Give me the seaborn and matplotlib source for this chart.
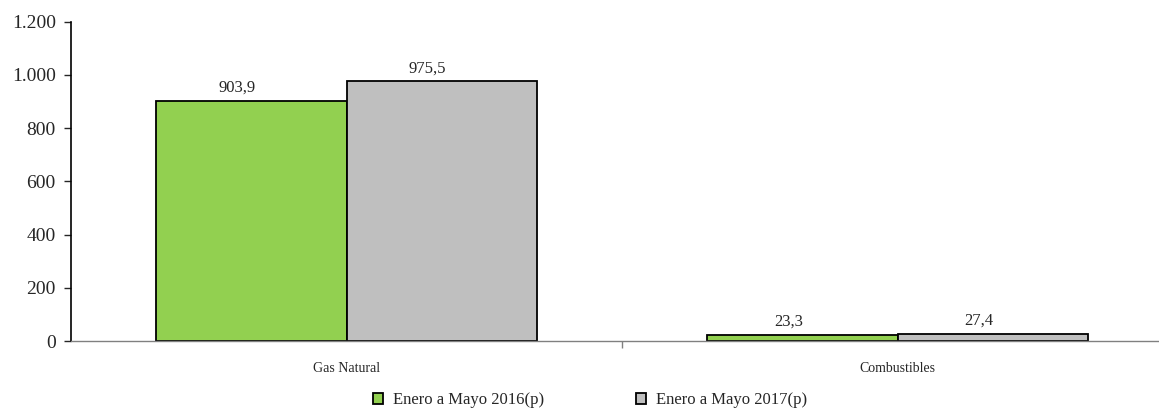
import pandas as pd
import matplotlib.pyplot as plt
import seaborn as sns
from matplotlib.patches import Patch
from matplotlib.ticker import FuncFormatter

# Datos
categorias = ['Gas Natural', 'Combustibles']
series = ['Enero a Mayo 2016(p)', 'Enero a Mayo 2017(p)']
valores_2016 = [903.9, 23.3]
valores_2017 = [975.5, 27.4]
colores = ['#92D050', '#BFBFBF']

df = pd.DataFrame({
    'categoria': categorias * 2,
    'serie': [series[0]] * 2 + [series[1]] * 2,
    'valor': valores_2016 + valores_2017,
})

sns.set_style('white')
plt.rcParams['font.family'] = ['Liberation Serif', 'DejaVu Serif']

fig = plt.figure(figsize=(11.59, 4.13), dpi=100)
# el eje x sigue mas alla del borde derecho, como en el original
ax = fig.add_axes([0.0613, 0.1743, 0.9508, 0.773])

sns.barplot(data=df, x='categoria', y='valor', hue='serie', order=categorias,
            hue_order=series, palette=colores, width=0.69, edgecolor='black',
            linewidth=1.3, saturation=1, legend=False, ax=ax)

# etiquetas de datos (un poco corridas a la izquierda como en Excel)
for cont in ax.containers:
    for bar, v in zip(cont.patches, cont.datavalues):
        ax.annotate(f'{v:.1f}'.replace('.', ','),
                    xy=(bar.get_x() + bar.get_width() / 2, bar.get_height()),
                    xytext=(-14, 5), textcoords='offset pixels',
                    ha='center', va='bottom', fontsize=12)

ax.set_ylim(0, 1200)
ax.set_xlim(-0.5, 1.5)
ax.set_yticks(range(0, 1201, 200))
ax.yaxis.set_major_formatter(FuncFormatter(lambda v, p: f'{int(v):,}'.replace(',', '.')))
ax.tick_params(axis='y', labelsize=14, length=5, width=1, direction='out', left=True, pad=6)
ax.tick_params(axis='x', labelsize=10, length=0, pad=15)
ax.set_xticks([0.5], minor=True)
ax.tick_params(axis='x', which='minor', length=5, width=1, color='#808080', bottom=True)
ax.set_xlabel('')
ax.set_ylabel('')

for s in ['top', 'right']:
    ax.spines[s].set_visible(False)
ax.spines['left'].set_color('black')
ax.spines['left'].set_linewidth(1.2)
ax.spines['bottom'].set_color('#808080')
ax.spines['bottom'].set_linewidth(1)

handles = [Patch(facecolor=c, edgecolor='black', linewidth=1.3) for c in colores]
fig.legend(handles, series, loc='lower center', bbox_to_anchor=(0.509, -0.025), ncol=2,
           frameon=False, fontsize=12, handlelength=0.6, handleheight=0.6,
           handletextpad=0.6, columnspacing=5.5)

fig.savefig('out.png', dpi=100)
